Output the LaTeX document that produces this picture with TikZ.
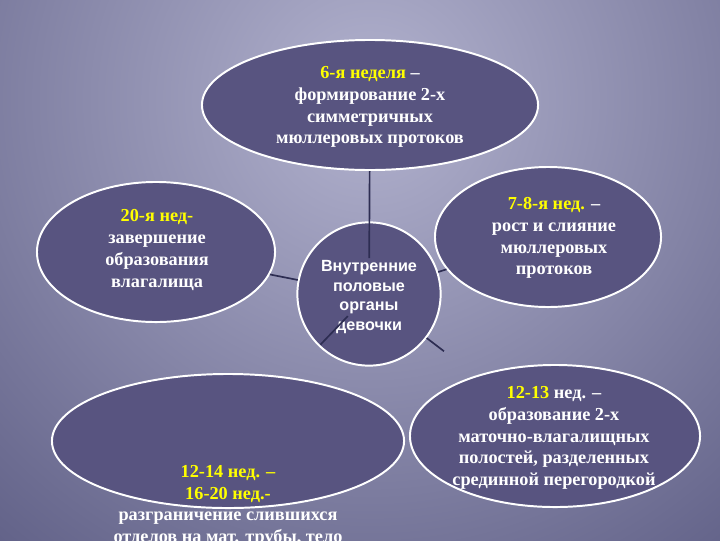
\documentclass[tikz,border=0pt]{standalone}
\usepackage{fontspec}
\setmainfont{Liberation Serif}
\setsansfont{Liberation Sans}
\usetikzlibrary{shapes.geometric}
\definecolor{bubblefill}{RGB}{88,84,128}
\definecolor{linkcol}{RGB}{45,45,82}
\definecolor{bgin}{RGB}{178,178,206}
\definecolor{bgout}{RGB}{24,24,72}
\definecolor{weekcol}{RGB}{255,255,0}
\begin{document}
\begin{tikzpicture}[
	x=0.025cm, y=-0.025cm,
	bubble/.style={ellipse, draw=white, line width=1.4pt, fill=bubblefill, inner sep=0pt},
	txt/.style={text=white, align=center, font=\fontsize{13}{15.5}\selectfont\bfseries},
	hubtxt/.style={text=white, align=center, font=\fontsize{11.5}{14}\selectfont\sffamily\bfseries},
	link/.style={draw=linkcol, line width=1.2pt}
	]
	\useasboundingbox (0,0) rectangle (720,540);
	\begin{scope}
		\clip (0,0) rectangle (720,540);
		\shade[inner color=bgin, outer color=bgout] (370,100) circle (1120);
	\end{scope}
	\node[bubble, minimum width=8.4cm, minimum height=3.25cm] (week6) at (370,105) {};
	\node[bubble, minimum width=5.95cm, minimum height=3.5cm] (week20) at (156,252) {};
	\node[bubble, minimum width=5.65cm, minimum height=3.5cm] (week7) at (548,237) {};
	\node[bubble, minimum width=7.25cm, minimum height=3.55cm] (week12) at (555,436) {};
	\node[bubble, minimum width=8.8cm, minimum height=3.35cm] (week14) at (228,441) {};
	\node[bubble, minimum width=3.58cm, minimum height=3.58cm] (hub) at (369,294) {};
	\node[txt] (week6txt) at (370,107) {{\color{weekcol}6-я неделя} –\\формирование 2-х\\симметричных\\мюллеровых протоков};
	\node[txt] (week20txt) at (157,250) {{\color{weekcol}20-я нед-}\\завершение\\образования\\влагалища};
	\node[txt] (week7txt) at (554,238) {{\color{weekcol}7-8-я нед.} –\\рост и слияние\\мюллеровых\\протоков};
	\node[txt] (week12txt) at (554,438) {{\color{weekcol}12-13} нед. –\\образование 2-х\\маточно-влагалищных\\полостей, разделенных\\срединной перегородкой};
	\node[txt] (week14txt) at (228,506) {{\color{weekcol}12-14 нед. –}\\{\color{weekcol}16-20 нед.-}\\разграничение слившихся\\отделов на мат. трубы, тело};
	\node[hubtxt] (hubtxt) at (369,297) {Внутренние\\половые\\органы\\девочки};
	\draw[link, shorten <=-0.92cm] (hub) -- (week6);
	\draw[link] (hub) -- (week20);
	\draw[link] (hub) -- (week7);
	\draw[link, shorten <=1.13cm, shorten >=-1.05cm] (week14) -- (hub);
	\draw[link, shorten >=1.0cm] (hub) -- (week12);
\end{tikzpicture}
\end{document}
